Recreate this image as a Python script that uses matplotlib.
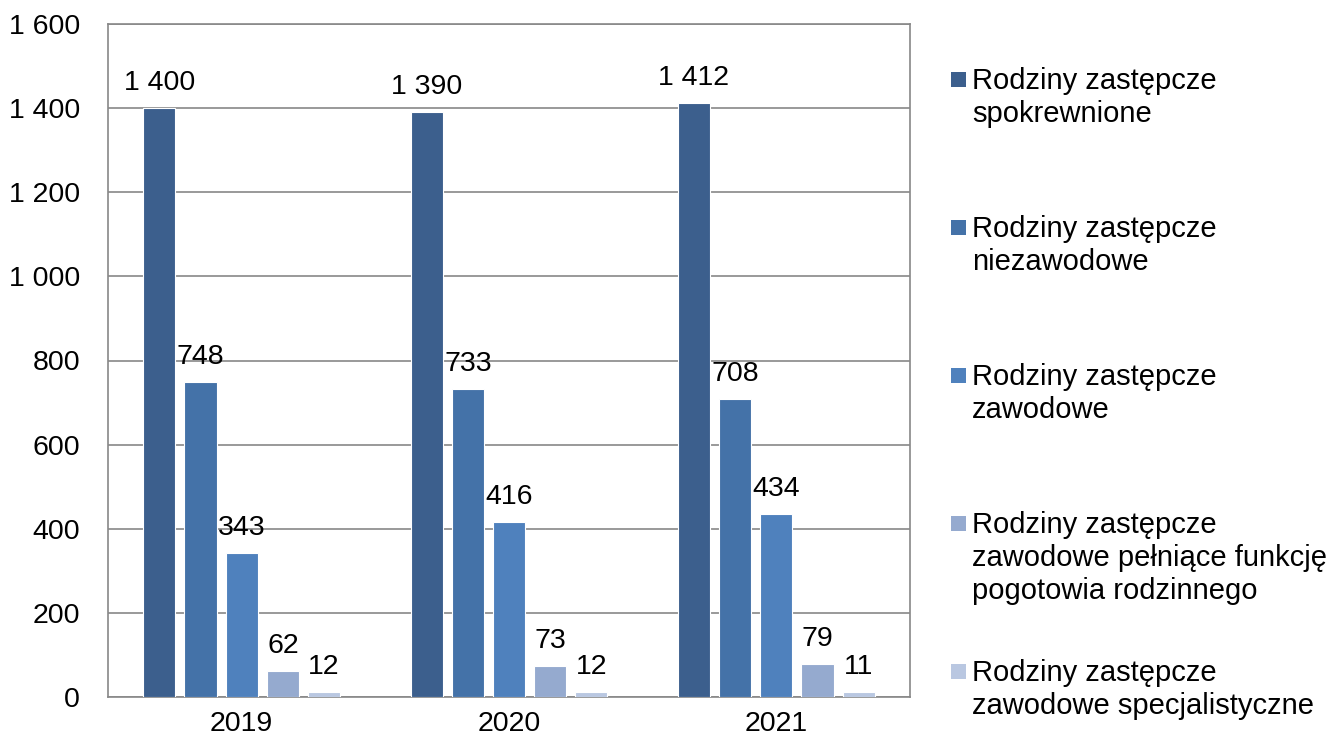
import matplotlib
matplotlib.use("Agg")
import matplotlib.pyplot as plt
from matplotlib.patches import Rectangle
import numpy as np

plt.rcParams['font.family'] = ['Liberation Sans', 'DejaVu Sans']

years = ["2019", "2020", "2021"]
series_names = [
    "Rodziny zastępcze\nspokrewnione",
    "Rodziny zastępcze\nniezawodowe",
    "Rodziny zastępcze\nzawodowe",
    "Rodziny zastępcze\nzawodowe pełniące funkcję\npogotowia rodzinnego",
    "Rodziny zastępcze\nzawodowe specjalistyczne",
]
spokrewnione = [1400, 1390, 1412]
niezawodowe = [748, 733, 708]
zawodowe = [343, 416, 434]
pogotowie = [62, 73, 79]
specjalistyczne = [12, 12, 11]
values = [spokrewnione, niezawodowe, zawodowe, pogotowie, specjalistyczne]
colors = ["#3C5F8D", "#4472A8", "#4F81BD", "#95AACF", "#B9C7E1"]
yticks = [0, 200, 400, 600, 800, 1000, 1200, 1400, 1600]

def fmt(v):
    return f"{v:,}".replace(",", " ")

W, H = 1333, 742
fig = plt.figure(figsize=(W / 100, H / 100), dpi=100)
ax = fig.add_axes([108 / W, 1 - 697 / H, (910 - 108) / W, (697 - 24) / H])

FS = 20.5
x = np.arange(len(years))
bw = 0.12
step = 0.154
for i, (vals, c) in enumerate(zip(values, colors)):
    pos = x + (i - 2) * step
    ax.bar(pos, vals, width=bw, color=c, edgecolor="white", linewidth=0.8, zorder=3)
    for p, v in zip(pos, vals):
        ax.annotate(fmt(v), (p, v), xytext=(0, 13), textcoords="offset points",
                    ha="center", va="baseline", fontsize=FS, color="black", zorder=4)

ax.set_xlim(-0.5, 2.5)
ax.set_ylim(0, 1600)
ax.set_yticks(yticks)
ax.set_yticklabels([fmt(v) for v in yticks], fontsize=FS)
ax.set_xticks(x)
ax.set_xticklabels(years, fontsize=FS)
ax.tick_params(axis="y", length=0, pad=20)
ax.tick_params(axis="x", length=0, pad=10)
ax.grid(axis="y", color="#888888", linewidth=1.2, zorder=0)
for s in ax.spines.values():
    s.set_color("#888888")
    s.set_linewidth(1.2)

# legend drawn manually
for i, (name, c) in enumerate(zip(series_names, colors)):
    base = 89 + 148 * i
    fig.add_artist(Rectangle((951 / W, 1 - (base - 2) / H), 15 / W, 15 / H,
                             transform=fig.transFigure, facecolor=c, edgecolor="none"))
    for j, line in enumerate(name.split("\n")):
        fig.text(972 / W, 1 - (base + 33 * j) / H, line, fontsize=21,
                 va="baseline", ha="left")

fig.savefig("out.png", dpi=100)
